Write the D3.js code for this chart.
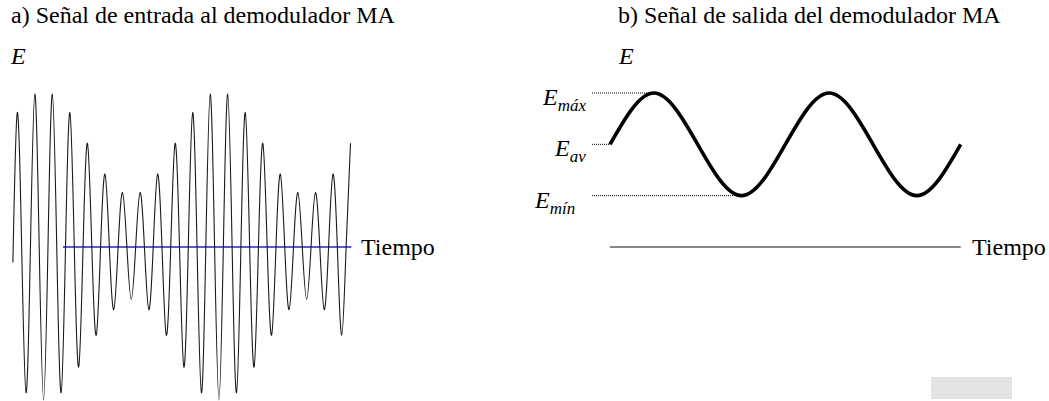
<!DOCTYPE html>
<html>
<head>
<meta charset="utf-8">
<script src="https://cdn.jsdelivr.net/npm/d3@7"></script>
<style>
  html, body { margin: 0; padding: 0; background: #fff; }
  svg { display: block; }
</style>
</head>
<body>
<svg id="chart" width="1049" height="401"></svg>
<script>
// ---------------- DATA ----------------
const titles = ["a) Señal de entrada al demodulador MA", "b) Señal de salida del demodulador MA"];
const axisLabel = "Tiempo";
const yLabel = "E";

// Input (AM) signal: successive extremes of the carrier (peak, trough, peak, ...)
// in units where E_av = 1
const inputStart = -0.15;
const inputExtremes = [
   1.31, -1.42,  1.49, -1.49,  1.49, -1.42,  1.31, -1.17,  1.01, -0.86,
   0.71, -0.61,  0.53, -0.51,  0.53, -0.61,  0.71, -0.86,  1.01, -1.17,
   1.31, -1.42,  1.49, -1.49,  1.49, -1.42,  1.31, -1.17,  1.01, -0.86,
   0.71, -0.61,  0.53, -0.51,  0.53, -0.61,  0.71, -0.86,  1.01
];

// Output (demodulated) signal sampled each quarter period
const outputSamples = [1.0, 1.5, 1.0, 0.5, 1.0, 1.5, 1.0, 0.5, 1.0];

// Reference levels
const levelNames = ["máx", "av", "mín"];
const levelValues = [1.5, 1.0, 0.5];
const levelTimes = [0.25, 0.0, 0.75];   // where the dotted guide meets the curve

// ---------------- SCALES ----------------
const FONT = "'Liberation Serif', 'Times New Roman', Times, 'DejaVu Serif', serif";
const svg = d3.select("#chart");

const xL = d3.scaleLinear().domain([0, 19.25]).range([12.9, 350.5]);
const xR = d3.scaleLinear().domain([0, 2]).range([610, 960.7]);
const y  = d3.scaleLinear().domain([0, 1.5]).range([247, 93]);

const inputPts = [[0, inputStart]];
inputExtremes.forEach((v, i) => {
  if (i > 0) inputPts.push([0.5 * i, 0]);
  inputPts.push([0.25 + 0.5 * i, v]);
});
const outputPts = outputSamples.map((v, i) => [0.25 * i, v]);

const fontSize = 24;
function txt(x, yy, s, italic) {
  return svg.append("text").attr("x", x).attr("y", yy)
    .attr("font-family", FONT).attr("font-size", fontSize)
    .attr("font-style", italic ? "italic" : "normal")
    .attr("fill", "#000").text(s);
}

// ---------------- PANEL A ----------------
txt(11, 23, titles[0]);
txt(11, 64, yLabel, true);

svg.append("line")
  .attr("x1", xL(2.86)).attr("x2", xL(19.3))
  .attr("y1", y(0)).attr("y2", y(0))
  .attr("stroke", "#2323c8").attr("stroke-width", 1.3);

svg.append("path")
  .datum(inputPts)
  .attr("fill", "none")
  .attr("stroke", "#1a1a1a")
  .attr("stroke-width", 1.1)
  .attr("d", d3.line().x(d => xL(d[0])).y(d => y(d[1])).curve(d3.curveNatural));

txt(361, 255, axisLabel);

// ---------------- PANEL B ----------------
txt(618, 23, titles[1]);
txt(619, 64, yLabel, true);

const labelX = [543, 555, 535];
levelValues.forEach((v, i) => {
  const xEnd = xR(levelTimes[i]) - (i === 2 ? 8 : (i === 0 ? 3 : 0));
  svg.append("line")
    .attr("x1", 592).attr("x2", xEnd)
    .attr("y1", y(v)).attr("y2", y(v))
    .attr("stroke", "#000").attr("stroke-width", 1)
    .attr("stroke-dasharray", "1,1");
  const t = svg.append("text")
    .attr("x", labelX[i]).attr("y", y(v) + 12)
    .attr("font-family", FONT).attr("font-size", 24)
    .attr("font-style", "italic").attr("fill", "#000");
  t.append("tspan").text("E");
  t.append("tspan").attr("dy", 6).attr("font-size", 17).text(levelNames[i]);
});

svg.append("path")
  .datum(outputPts)
  .attr("fill", "none")
  .attr("stroke", "#000")
  .attr("stroke-width", 3.6)
  .attr("d", d3.line().x(d => xR(d[0])).y(d => y(d[1])).curve(d3.curveNatural));

svg.append("line")
  .attr("x1", xR(0)).attr("x2", xR(2))
  .attr("y1", y(0)).attr("y2", y(0))
  .attr("stroke", "#111").attr("stroke-width", 1.2);

txt(972, 255, axisLabel);

svg.append("rect").attr("x", 931).attr("y", 377).attr("width", 81).attr("height", 22)
  .attr("fill", "#e3e3e3");
</script>
</body>
</html>
